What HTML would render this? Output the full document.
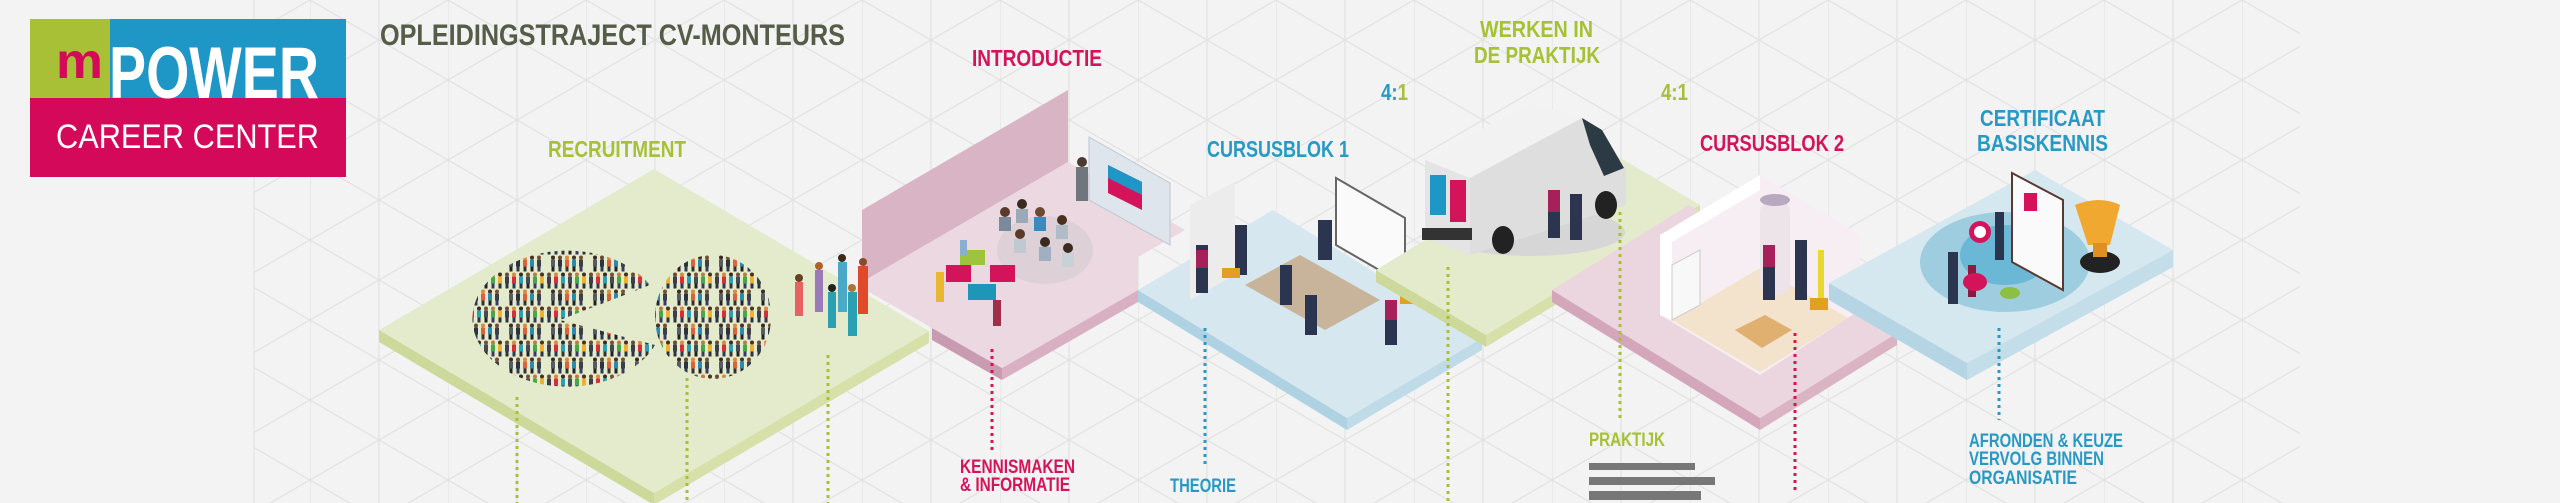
<!DOCTYPE html>
<html><head><meta charset="utf-8"><style>
html,body{margin:0;padding:0;background:#f3f3f3;}
svg{display:block}
text{font-family:"Liberation Sans",sans-serif;font-weight:bold;}
</style></head><body>
<svg width="2560" height="503" viewBox="0 0 2560 503" xmlns="http://www.w3.org/2000/svg">
<defs>
<pattern id="grid" x="310" y="0" width="138" height="80" patternUnits="userSpaceOnUse">
<path d="M0 0V80M69 0V80M0 0L138 80M0 80L138 0" stroke="#e2e2e2" stroke-width="1.2" fill="none"/>
</pattern>
<pattern id="crowd" x="0" y="0" width="42" height="34" patternUnits="userSpaceOnUse">
<g>
<circle cx="3" cy="2.5" r="2" fill="#6b4a32"/><rect x="1" y="4.5" width="4" height="7" fill="#3a3f4a"/><rect x="1.5" y="11.5" width="3" height="5" fill="#2b3340"/>
<circle cx="10" cy="2.5" r="2" fill="#d98a3a"/><rect x="8" y="4.5" width="4" height="7" fill="#d5303a"/><rect x="8.5" y="11.5" width="3" height="5" fill="#2b3a55"/>
<circle cx="17" cy="2.5" r="2" fill="#3a2a20"/><rect x="15" y="4.5" width="4" height="7" fill="#2aa0b8"/><rect x="15.5" y="11.5" width="3" height="5" fill="#333"/>
<circle cx="24" cy="2.5" r="2" fill="#7a5030"/><rect x="22" y="4.5" width="4" height="7" fill="#444b55"/><rect x="22.5" y="11.5" width="3" height="5" fill="#222"/>
<circle cx="31" cy="2.5" r="2" fill="#c07a40"/><rect x="29" y="4.5" width="4" height="7" fill="#45a848"/><rect x="29.5" y="11.5" width="3" height="5" fill="#3a3a60"/>
<circle cx="38" cy="2.5" r="2" fill="#4a3020"/><rect x="36" y="4.5" width="4" height="7" fill="#f0b030"/><rect x="36.5" y="11.5" width="3" height="5" fill="#2b3340"/>
</g>
<g transform="translate(4,17)">
<circle cx="3" cy="2.5" r="2" fill="#3a2a20"/><rect x="1" y="4.5" width="4" height="7" fill="#555c66"/><rect x="1.5" y="11.5" width="3" height="5" fill="#222"/>
<circle cx="10" cy="2.5" r="2" fill="#6b4a32"/><rect x="8" y="4.5" width="4" height="7" fill="#2b3340"/><rect x="8.5" y="11.5" width="3" height="5" fill="#2b3a55"/>
<circle cx="17" cy="2.5" r="2" fill="#d98a3a"/><rect x="15" y="4.5" width="4" height="7" fill="#e0603a"/><rect x="15.5" y="11.5" width="3" height="5" fill="#333"/>
<circle cx="24" cy="2.5" r="2" fill="#4a3020"/><rect x="22" y="4.5" width="4" height="7" fill="#2a8ab0"/><rect x="22.5" y="11.5" width="3" height="5" fill="#222"/>
<circle cx="31" cy="2.5" r="2" fill="#7a5030"/><rect x="29" y="4.5" width="4" height="7" fill="#3a3f4a"/><rect x="29.5" y="11.5" width="3" height="5" fill="#3a3a60"/>
</g>
</pattern>
<clipPath id="pac"><path d="M560 320 L650 285 A95 68 0 1 0 655 345 Z"/></clipPath>
<clipPath id="ring"><path fill-rule="evenodd" d="M713 255 a58 62 0 1 0 0.1 0Z M713 295 a20 22 0 1 0 0.1 0Z"/></clipPath>
</defs>
<rect width="2560" height="503" fill="#f3f3f3"/>
<rect x="254" y="0" width="2046" height="503" fill="url(#grid)"/>
<line x1="254" y1="0" x2="254" y2="503" stroke="#e2e2e2"/>

<!-- Recruitment platform -->
<polygon points="379,330 654,493 654,505 379,342" fill="#cdd99a"/>
<polygon points="654,493 929,331 929,343 654,505" fill="#d6e0a8"/>
<polygon points="379,330 654,169 929,331 654,493" fill="#e4eacc"/>

<!-- Intro -->
<polygon points="862,210 1068,90 1068,162 862,282" fill="#d8b4c4"/>
<polygon points="932,328 1002,368 1002,380 932,340" fill="#c99bb0"/>
<polygon points="1002,368 1138,290 1138,302 1002,380" fill="#d9b0c2"/>
<polygon points="862,282 1068,162 1185,230 1138,257 1138,290 1002,368 932,328 862,288" fill="#ecd8e0"/>
<polygon points="1089,137 1170,183 1170,245 1089,200" fill="#dfe5ec" stroke="#bcc6d0"/>
<polygon points="1108,165 1142,182 1142,210 1108,193" fill="#d4145a"/>
<polygon points="1108,165 1142,182 1142,195 1108,178" fill="#1e96c6"/>
<ellipse cx="1045" cy="250" rx="48" ry="34" fill="#ddd0d6"/>
<g>
<circle cx="1005" cy="212" r="5" fill="#5a3a2a"/><rect x="999" y="217" width="12" height="14" fill="#7a8a9a"/>
<circle cx="1022" cy="204" r="5" fill="#3a2a20"/><rect x="1016" y="209" width="12" height="14" fill="#9aa8b8"/>
<circle cx="1040" cy="212" r="5" fill="#6a4a30"/><rect x="1034" y="217" width="12" height="14" fill="#3a8ac0"/>
<circle cx="1062" cy="220" r="5" fill="#4a3020"/><rect x="1056" y="225" width="12" height="14" fill="#b0bcc8"/>
<circle cx="1020" cy="234" r="5" fill="#5a3a2a"/><rect x="1014" y="239" width="12" height="14" fill="#c0c8d0"/>
<circle cx="1045" cy="242" r="5" fill="#3a2a20"/><rect x="1039" y="247" width="12" height="14" fill="#a0b0c0"/>
<circle cx="1068" cy="248" r="5" fill="#3a2a20"/><rect x="1062" y="253" width="12" height="14" fill="#c8d0d8"/>
<circle cx="1082" cy="162" r="5" fill="#4a3a30"/><rect x="1076" y="167" width="12" height="34" fill="#70767e"/>
</g>
<rect x="960" y="250" width="25" height="15" fill="#9dc43c"/>
<rect x="946" y="265" width="25" height="17" fill="#d4145a"/>
<rect x="990" y="265" width="25" height="17" fill="#d4145a"/>
<rect x="968" y="284" width="28" height="16" fill="#1e96b8"/>
<rect x="936" y="272" width="8" height="30" fill="#e8b830"/>
<rect x="993" y="300" width="8" height="26" fill="#a0304a"/>
<rect x="960" y="240" width="7" height="16" fill="#8aaed0"/>

<!-- Cursusblok 1 -->
<polygon points="1138,290 1347,418 1347,430 1138,302" fill="#afd2e3"/>
<polygon points="1347,418 1482,338 1482,350 1347,430" fill="#bfdbe8"/>
<polygon points="1138,290 1273,210 1482,338 1347,418" fill="#d6e7ef"/>
<polygon points="1190,205 1235,182 1235,275 1190,300" fill="#ececec"/>
<polygon points="1336,178 1405,218 1405,285 1336,245" fill="#fafafa" stroke="#666" stroke-width="2"/>
<polygon points="1300,255 1380,300 1325,330 1245,285" fill="#c8b49a"/>
<g fill="#2c3550">
<rect x="1196" y="245" width="12" height="48"/><rect x="1235" y="225" width="12" height="50"/>
<rect x="1280" y="265" width="12" height="40"/><rect x="1305" y="295" width="12" height="40"/>
<rect x="1385" y="300" width="12" height="45"/><rect x="1318" y="220" width="14" height="40"/>
</g>
<g fill="#a6205a"><rect x="1196" y="250" width="12" height="18"/><rect x="1385" y="300" width="12" height="20"/></g>
<rect x="1400" y="292" width="18" height="12" fill="#e0a020"/>
<rect x="1222" y="268" width="18" height="10" fill="#e0a020"/>

<!-- Werken platform -->
<polygon points="1376,270 1486,335 1486,347 1376,282" fill="#cdd99a"/>
<polygon points="1486,335 1700,205 1700,217 1486,347" fill="#d6e0a8"/>
<polygon points="1376,270 1590,140 1700,205 1486,335" fill="#e4eacc"/>
<!-- van -->
<ellipse cx="1530" cy="232" rx="95" ry="24" fill="#d6d6d6"/>
<polygon points="1425,160 1530,103 1582,118 1470,178" fill="#f2f2f2"/>
<polygon points="1425,160 1470,178 1470,255 1425,238" fill="#e4e4e4"/>
<polygon points="1470,178 1582,118 1602,130 1626,170 1626,205 1470,255" fill="#dedede"/>
<polygon points="1582,118 1602,130 1624,168 1604,176 1590,145" fill="#2c3a44"/>
<rect x="1430" y="175" width="16" height="40" fill="#1e96c6"/>
<rect x="1450" y="180" width="16" height="42" fill="#d4145a"/>
<rect x="1422" y="228" width="50" height="12" fill="#333"/>
<ellipse cx="1503" cy="240" rx="11" ry="14" fill="#222"/>
<ellipse cx="1606" cy="205" rx="11" ry="14" fill="#222"/>
<rect x="1548" y="190" width="12" height="48" fill="#2c3550"/><rect x="1548" y="190" width="12" height="22" fill="#a6205a"/>
<rect x="1570" y="194" width="12" height="46" fill="#2c3550"/>

<!-- Cursusblok 2 -->
<polygon points="1552,290 1760,418 1760,430 1552,302" fill="#d3a7b9"/>
<polygon points="1760,418 1897,333 1897,345 1760,430" fill="#dbb4c4"/>
<polygon points="1552,290 1689,205 1897,333 1760,418" fill="#ebd5de"/>
<polygon points="1660,235 1760,175 1860,235 1860,310 1760,375 1660,315" fill="#f6eef2"/>
<polygon points="1660,235 1760,175 1760,190 1672,242 1672,320 1660,315" fill="#ffffff"/>
<polygon points="1672,320 1760,268 1848,318 1760,372" fill="#f3e2cc"/>
<polygon points="1672,265 1700,250 1700,305 1672,320" fill="#f8f8f8" stroke="#ccc"/>
<rect x="1760" y="200" width="30" height="95" rx="12" fill="#ede4ea"/>
<ellipse cx="1775" cy="200" rx="15" ry="6" fill="#b8a8c0"/>
<rect x="1763" y="245" width="12" height="55" fill="#2c3550"/><rect x="1763" y="245" width="12" height="22" fill="#a6205a"/>
<rect x="1795" y="240" width="12" height="60" fill="#2c3550"/>
<rect x="1818" y="250" width="6" height="50" fill="#e8d830"/>
<polygon points="1735,330 1765,315 1792,330 1762,348" fill="#e0b070"/>
<rect x="1810" y="298" width="18" height="12" fill="#e0a020"/>

<!-- Certificaat -->
<polygon points="1829,283 1967,363 1967,380 1829,300" fill="#b5d5e4"/>
<polygon points="1967,363 2173,250 2173,267 1967,380" fill="#c3dde9"/>
<polygon points="1829,283 2035,170 2173,250 1967,363" fill="#d5e7ef"/>
<ellipse cx="2005" cy="262" rx="85" ry="50" fill="#9ecde0"/>
<ellipse cx="2005" cy="255" rx="45" ry="30" fill="#6ab8d6"/>
<polygon points="2012,173 2063,200 2063,290 2012,262" fill="#fafafa" stroke="#5a3a30" stroke-width="2"/>
<rect x="2024" y="193" width="13" height="18" fill="#d4145a"/>
<circle cx="1980" cy="232" r="11" fill="#d4145a"/><circle cx="1980" cy="232" r="6" fill="#fff"/>
<rect x="1995" y="212" width="9" height="48" fill="#2c3550"/>
<rect x="1948" y="252" width="10" height="52" fill="#2c3550"/>
<rect x="1968" y="265" width="8" height="32" fill="#8a1a40"/>
<ellipse cx="2010" cy="293" rx="10" ry="6" fill="#8cc040"/>
<ellipse cx="1975" cy="282" rx="12" ry="9" fill="#d4145a"/>
<path d="M2075,205 Q2100,195 2120,205 L2110,245 L2088,245 Z" fill="#f0a830"/>
<ellipse cx="2100" cy="262" rx="20" ry="11" fill="#222"/>
<rect x="2093" y="243" width="14" height="14" fill="#e09020"/>

<!-- Crowd -->
<rect x="460" y="250" width="200" height="145" fill="url(#crowd)" clip-path="url(#pac)"/>
<rect x="650" y="252" width="130" height="130" fill="url(#crowd)" clip-path="url(#ring)"/>
<g>
<rect x="795" y="282" width="8" height="34" fill="#e86060"/><circle cx="799" cy="278" r="4" fill="#6a4020"/>
<rect x="815" y="270" width="8" height="42" fill="#9a7ab8"/><circle cx="819" cy="266" r="4" fill="#b06030"/>
<rect x="828" y="292" width="8" height="36" fill="#2aa0b0"/><circle cx="832" cy="288" r="4" fill="#222"/>
<rect x="838" y="262" width="9" height="50" fill="#4aa8c8"/><circle cx="842" cy="258" r="4" fill="#3a2a20"/>
<rect x="848" y="292" width="9" height="44" fill="#2aa0b0"/><circle cx="852" cy="288" r="4" fill="#b07040"/>
<rect x="858" y="266" width="10" height="48" fill="#e04a2a"/><circle cx="863" cy="262" r="4" fill="#8a4a2a"/>
</g>

<!-- Dotted connectors -->
<g stroke-width="3" fill="none" stroke-dasharray="3,4">
<line x1="517" y1="397" x2="517" y2="503" stroke="#a8c035"/>
<line x1="687" y1="378" x2="687" y2="503" stroke="#a8c035"/>
<line x1="828" y1="355" x2="828" y2="503" stroke="#a8c035"/>
<line x1="992" y1="349" x2="992" y2="453" stroke="#d4145a"/>
<line x1="1205" y1="328" x2="1205" y2="467" stroke="#2799c6"/>
<line x1="1448" y1="267" x2="1448" y2="503" stroke="#a8c035"/>
<line x1="1620" y1="212" x2="1620" y2="420" stroke="#a8c035"/>
<line x1="1795" y1="333" x2="1795" y2="493" stroke="#d4145a"/>
<line x1="1999" y1="328" x2="1999" y2="420" stroke="#2799c6"/>
</g>

<!-- Logo -->
<rect x="30" y="19" width="80" height="80" fill="#a8c035"/>
<rect x="110" y="19" width="236" height="80" fill="#1e96c6"/>
<rect x="30" y="98" width="316" height="79" fill="#d4095a"/>
<text x="56" y="78" font-size="50" fill="#d4095a" textLength="47" lengthAdjust="spacingAndGlyphs">m</text>
<text x="109" y="98" font-size="73" fill="#ffffff" textLength="210" lengthAdjust="spacingAndGlyphs">POWER</text>
<text x="56" y="148" font-size="34" style="font-weight:normal" fill="#ffffff" textLength="263" lengthAdjust="spacingAndGlyphs">CAREER CENTER</text>

<!-- Titles -->
<text x="380" y="45" font-size="30" fill="#555d48" textLength="465" lengthAdjust="spacingAndGlyphs">OPLEIDINGSTRAJECT CV-MONTEURS</text>
<g font-size="23">
<text x="548" y="157" fill="#a8c035" textLength="138" lengthAdjust="spacingAndGlyphs">RECRUITMENT</text>
<text x="972" y="66" fill="#d4145a" textLength="130" lengthAdjust="spacingAndGlyphs">INTRODUCTIE</text>
<text x="1207" y="157" fill="#2799c6" textLength="142" lengthAdjust="spacingAndGlyphs">CURSUSBLOK 1</text>
<text x="1480" y="37" fill="#a8c035" textLength="113" lengthAdjust="spacingAndGlyphs">WERKEN IN</text>
<text x="1474" y="63" fill="#a8c035" textLength="126" lengthAdjust="spacingAndGlyphs">DE PRAKTIJK</text>
<text x="1381" y="100" fill="#2799c6" textLength="27" lengthAdjust="spacingAndGlyphs">4:<tspan fill="#a8c035">1</tspan></text>
<text x="1661" y="100" fill="#a8c035" textLength="27" lengthAdjust="spacingAndGlyphs">4:1</text>
<text x="1700" y="151" fill="#d4145a" textLength="144" lengthAdjust="spacingAndGlyphs">CURSUSBLOK 2</text>
<text x="1980" y="126" fill="#2799c6" textLength="125" lengthAdjust="spacingAndGlyphs">CERTIFICAAT</text>
<text x="1977" y="151" fill="#2799c6" textLength="131" lengthAdjust="spacingAndGlyphs">BASISKENNIS</text>
</g>
<g font-size="19">
<text x="960" y="473" fill="#d4145a" textLength="115" lengthAdjust="spacingAndGlyphs">KENNISMAKEN</text>
<text x="960" y="491" fill="#d4145a" textLength="110" lengthAdjust="spacingAndGlyphs">&amp; INFORMATIE</text>
<text x="1170" y="492" fill="#2799c6" textLength="66" lengthAdjust="spacingAndGlyphs">THEORIE</text>
<text x="1589" y="446" fill="#a8c035" textLength="76" lengthAdjust="spacingAndGlyphs">PRAKTIJK</text>
<text x="1969" y="447" fill="#2799c6" textLength="154" lengthAdjust="spacingAndGlyphs">AFRONDEN &amp; KEUZE</text>
<text x="1969" y="465" fill="#2799c6" textLength="135" lengthAdjust="spacingAndGlyphs">VERVOLG BINNEN</text>
<text x="1969" y="484" fill="#2799c6" textLength="108" lengthAdjust="spacingAndGlyphs">ORGANISATIE</text>
</g>
<rect x="1589" y="463" width="106" height="7" fill="#777"/>
<rect x="1589" y="477" width="126" height="8" fill="#777"/>
<rect x="1589" y="491" width="112" height="9" fill="#777"/>
</svg>
</body></html>
